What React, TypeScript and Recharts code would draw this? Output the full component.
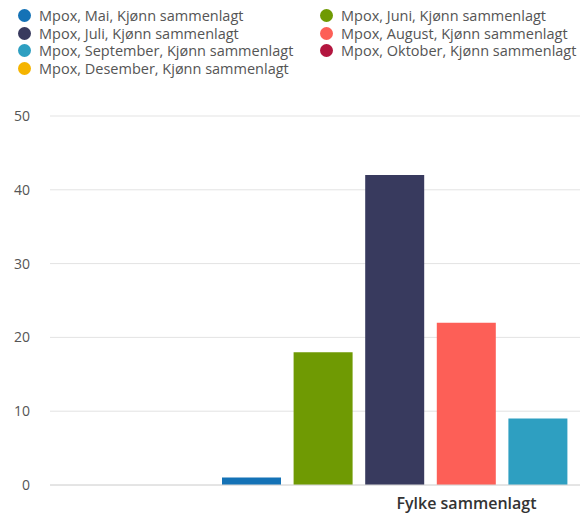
import { BarChart, Bar, XAxis, YAxis, CartesianGrid } from 'recharts'

// ─── Data ─────────
const CATEGORIES = ['Fylke sammenlagt']
const SERIES = [
  { key: 'mai', name: 'Mpox, Mai, Kjønn sammenlagt', color: '#1472b6' },
  { key: 'juni', name: 'Mpox, Juni, Kjønn sammenlagt', color: '#6f9a03' },
  { key: 'juli', name: 'Mpox, Juli, Kjønn sammenlagt', color: '#383a5e' },
  { key: 'august', name: 'Mpox, August, Kjønn sammenlagt', color: '#fd5f57' },
  { key: 'september', name: 'Mpox, September, Kjønn sammenlagt', color: '#2e9fc1' },
  { key: 'oktober', name: 'Mpox, Oktober, Kjønn sammenlagt', color: '#b3163f' },
  { key: 'desember', name: 'Mpox, Desember, Kjønn sammenlagt', color: '#f5b400' },
]
const VALUES = [1, 18, 42, 22, 9, 1, 0]
const Y_TICKS = [0, 10, 20, 30, 40, 50]

const data = CATEGORIES.map((name) => {
  const row: Record<string, string | number> = { name }
  SERIES.forEach((s, i) => {
    row[s.key] = VALUES[i]
  })
  return row
})

const FONT = '"Open Sans", "Noto Sans", sans-serif'

// two-column legend, row by row like the original
function LegendBlock() {
  return (
    <div
      style={{
        position: 'absolute',
        top: 7,
        left: 18,
        display: 'grid',
        gridTemplateColumns: '302px 260px',
        fontFamily: FONT,
        fontSize: 14.5,
        color: '#555',
        lineHeight: '17.5px',
      }}
    >
      {SERIES.map((s) => (
        <div key={s.key} style={{ display: 'flex', alignItems: 'center', whiteSpace: 'nowrap' }}>
          <span
            style={{
              width: 13,
              height: 13,
              borderRadius: '50%',
              background: s.color,
              display: 'inline-block',
              marginRight: 8,
            }}
          />
          {s.name}
        </div>
      ))}
    </div>
  )
}

export default function App() {
  return (
    <div
      style={{
        position: 'fixed',
        top: 0,
        left: 0,
        width: 580,
        height: 516,
        overflow: 'hidden',
        background: '#fff',
      }}
    >
      <div style={{ position: 'absolute', top: 0, left: 0 }}>
        <BarChart
          width={883}
          height={516}
          data={data}
          margin={{ top: 116, right: 0, bottom: 0, left: 0 }}
          barSize={59}
          barGap={12.6}
        >
          <CartesianGrid vertical={false} stroke="#e3e3e3" />
          <XAxis
            dataKey="name"
            height={31}
            axisLine={{ stroke: '#d8d8d8' }}
            tickLine={false}
            tickMargin={7}
            tick={{ fill: '#333', fontSize: 16, fontWeight: 600, fontFamily: FONT }}
          />
          <YAxis
            width={50}
            domain={[0, 50]}
            ticks={Y_TICKS}
            axisLine={false}
            tickLine={false}
            tickSize={0}
            tickMargin={20}
            tick={{ fill: '#555', fontSize: 14, fontFamily: FONT }}
          />
          {SERIES.map((s) => (
            <Bar key={s.key} dataKey={s.key} name={s.name} fill={s.color} isAnimationActive={false} />
          ))}
        </BarChart>
      </div>
      <LegendBlock />
    </div>
  )
}
